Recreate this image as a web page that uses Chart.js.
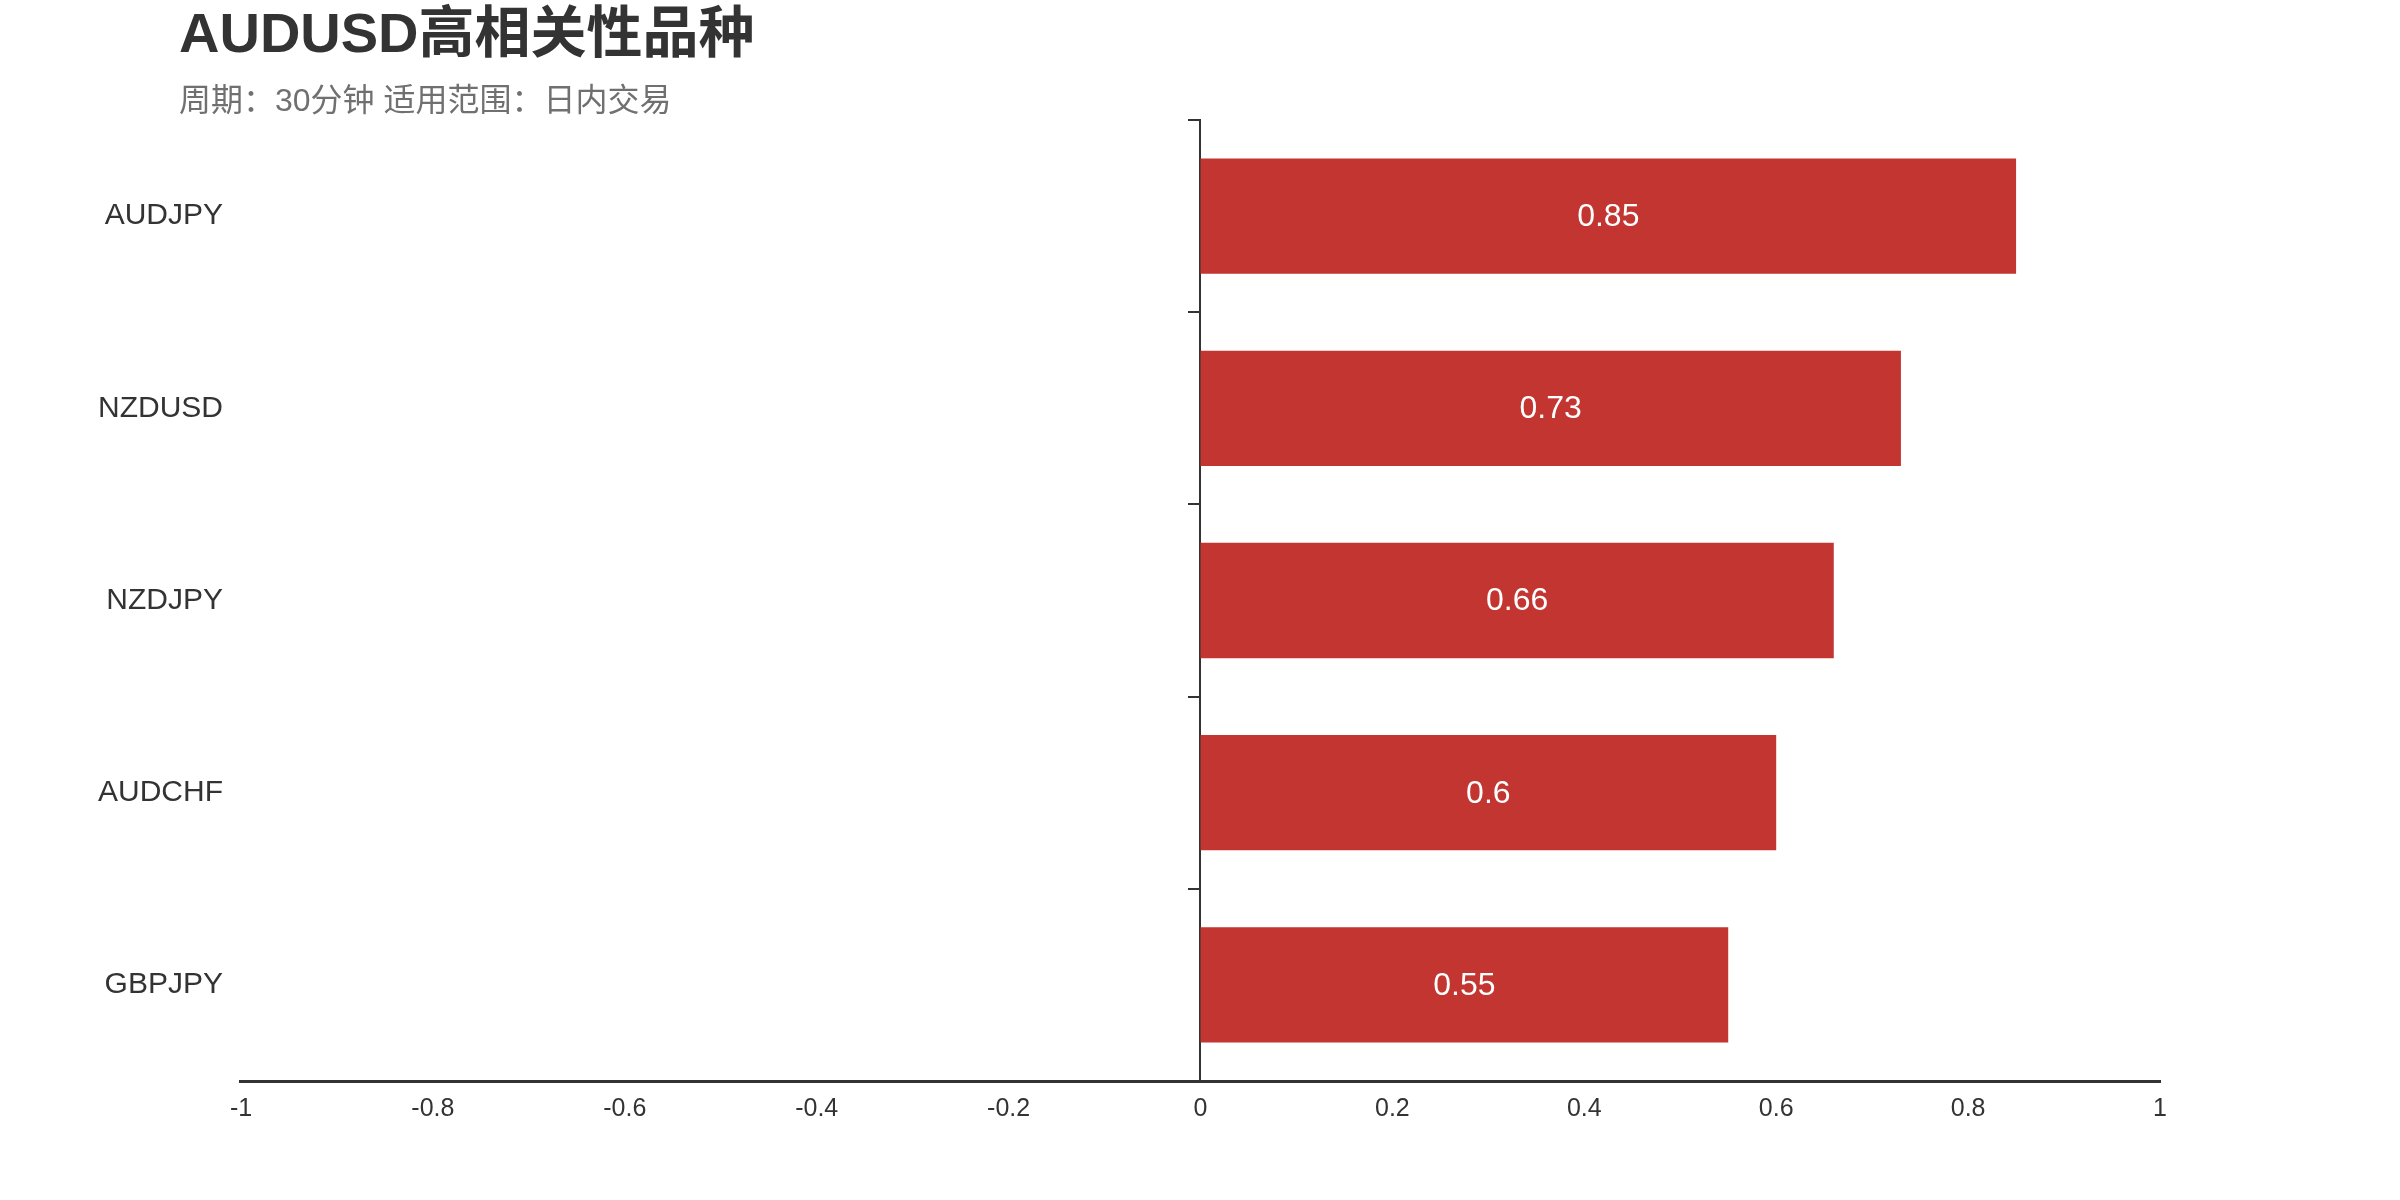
<!DOCTYPE html>
<html>
<head>
<meta charset="utf-8">
<title>AUDUSD高相关性品种</title>
<script src="https://cdn.jsdelivr.net/npm/chart.js@4.4.1/dist/chart.umd.min.js"></script>
<style>
  html, body { margin: 0; padding: 0; background: #fff; }
  #wrap { position: relative; width: 2400px; height: 1200px; }
  #chart { position: absolute; left: 0; top: 0; }
  .head { position: absolute; left: 179px; white-space: nowrap; font-family: "Liberation Sans", Arial, "Noto Sans CJK SC", sans-serif; }
  #title { top: 5px; font-size: 56px; line-height: 56px; font-weight: bold; color: #333; }
  #subtitle { top: 84px; font-size: 32px; line-height: 32px; color: #707070; }
</style>
</head>
<body>
<div id="wrap">
  <canvas id="chart" width="2400" height="1200"></canvas>
  <div id="title" class="head">AUDUSD高相关性品种</div>
  <div id="subtitle" class="head">周期：30分钟 适用范围：日内交易</div>
</div>
<script>
'use strict';

var categories = ['AUDJPY', 'NZDUSD', 'NZDJPY', 'AUDCHF', 'GBPJPY'];
var correlations = [0.85, 0.73, 0.66, 0.6, 0.55];
var xTickValues = [-1, -0.8, -0.6, -0.4, -0.2, 0, 0.2, 0.4, 0.6, 0.8, 1];

var FONT = '"Liberation Sans", Arial, sans-serif';

// value labels drawn in the middle of each bar
var barLabels = {
    id: 'barLabels',
    afterDatasetsDraw: function (chart) {
        var ctx = chart.ctx;
        var meta = chart.getDatasetMeta(0);
        var values = chart.data.datasets[0].data;
        ctx.save();
        ctx.font = '32px ' + FONT;
        ctx.fillStyle = '#fff';
        ctx.textAlign = 'center';
        ctx.textBaseline = 'middle';
        meta.data.forEach(function (bar, i) {
            var p = bar.getProps(['x', 'y', 'base'], true);
            ctx.fillText(String(values[i]), (p.x + p.base) / 2, p.y + 1);
        });
        ctx.restore();
    }
};

var ctx = document.getElementById('chart').getContext('2d');
new Chart(ctx, {
    type: 'bar',
    data: {
        labels: categories,
        datasets: [{
            data: correlations,
            backgroundColor: '#C23531',
            borderWidth: 0,
            categoryPercentage: 1,
            barPercentage: 0.6
        }]
    },
    options: {
        indexAxis: 'y',
        responsive: false,
        devicePixelRatio: 1,
        animation: false,
        layout: { padding: { left: 80, right: 240, top: 120, bottom: 63 } },
        plugins: {
            legend: { display: false },
            tooltip: { enabled: false }
        },
        scales: {
            x: {
                type: 'linear',
                min: -1,
                max: 1,
                afterBuildTicks: function (scale) {
                    scale.ticks = xTickValues.map(function (v) { return { value: v }; });
                },
                grid: { display: false, drawTicks: false },
                border: { display: true, color: '#333', width: 3 },
                ticks: {
                    color: '#333',
                    padding: 13,
                    maxRotation: 0,
                    font: { family: FONT, size: 25 },
                    callback: function (v) { return String(v); }
                }
            },
            y: {
                type: 'category',
                position: 'left',
                offset: true,
                grid: { display: false, drawTicks: false },
                border: { display: false },
                ticks: {
                    color: '#333',
                    padding: 18,
                    font: { family: FONT, size: 30 }
                }
            },
            yZero: {
                type: 'category',
                axis: 'y',
                position: { x: 0 },
                offset: true,
                grid: {
                    offset: true,
                    drawOnChartArea: false,
                    drawTicks: true,
                    tickLength: 11,
                    color: '#333',
                    lineWidth: 2
                },
                border: { display: true, color: '#333', width: 2 },
                ticks: { display: false }
            }
        }
    },
    plugins: [barLabels]
});
</script>
</body>
</html>
